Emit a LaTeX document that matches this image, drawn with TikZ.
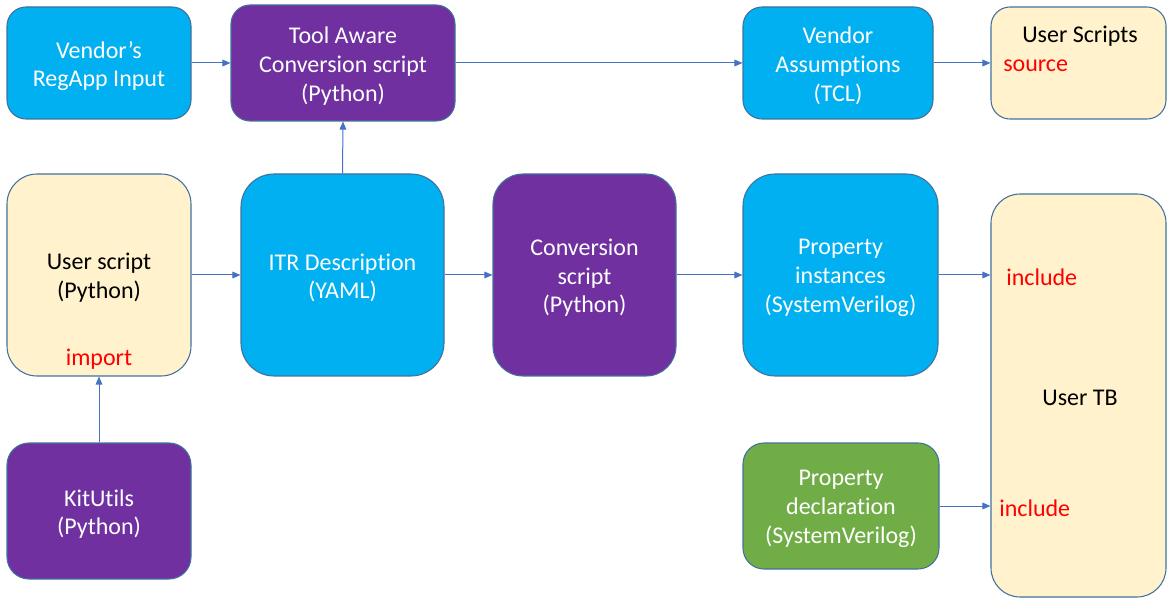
\documentclass[tikz,border=0pt]{standalone}
\usepackage{fontspec}
\setmainfont[Ligatures=NoCommon]{Carlito}
\usetikzlibrary{arrows.meta}

\definecolor{skyfill}{HTML}{00B0F0}
\definecolor{plumfill}{HTML}{7030A0}
\definecolor{leaffill}{HTML}{70AD47}
\definecolor{creamfill}{HTML}{FFF2CC}
\definecolor{outline}{HTML}{41719C}
\definecolor{linkblue}{HTML}{4472C4}
\definecolor{keyred}{HTML}{FF0000}

\begin{document}
\begin{tikzpicture}[x=0.75pt,y=-0.75pt,
  txt/.style={font=\fontsize{18}{21.5}\selectfont, inner sep=0pt},
  card/.style n args={3}{draw=outline, line width=0.8pt, inner sep=0pt,
    minimum width=#1*0.75pt, minimum height=#2*0.75pt,
    rounded corners=#3*0.75pt},
  sky/.style={fill=skyfill},
  plum/.style={fill=plumfill},
  leaf/.style={fill=leaffill},
  cream/.style={fill=creamfill},
  caption/.style={txt, align=center, text=white},
  darkcaption/.style={txt, align=center, text=black},
  keyword/.style={txt, text=keyred, anchor=west},
  link/.style={draw=linkblue, line width=0.75pt,
    -{Triangle[length=6pt,width=5pt]}}
]
\useasboundingbox (0,0) rectangle (1167,598);

% boxes, top row
\node[card={184}{112}{19}, sky]  (reg)   at (99,63)     {};
\node[card={224}{116}{19}, plum] (tool)  at (343,63)    {};
\node[card={190}{112}{19}, sky]  (vass)  at (838,63)    {};
\node[card={175}{112}{19}, cream](uscr)  at (1078.5,63) {};

% boxes, middle row
\node[card={184}{202}{30}, cream](user)  at (99,275)    {};
\node[card={203}{202}{33}, sky]  (itr)   at (342.5,275) {};
\node[card={183}{202}{30}, plum] (conv)  at (584.5,275) {};
\node[card={195}{202}{32}, sky]  (pinst) at (840.5,275) {};
\node[card={175}{403}{29}, cream](tb)    at (1078.5,395.5) {};

% boxes, bottom row
\node[card={184}{136}{22}, plum] (kit)   at (99,511)    {};
\node[card={196}{126}{21}, leaf] (pdecl) at (841,506)   {};

% captions
\node[caption] (regT)   at ([yshift=-2.25pt]reg.center)   {Vendor’s\\RegApp Input};
\node[caption] (toolT)  at ([yshift=-2.25pt]tool.center)  {Tool Aware\\Conversion script\\(Python)};
\node[caption] (vassT)  at ([yshift=-2.25pt]vass.center)  {Vendor\\Assumptions\\(TCL)};
\node[darkcaption] (uscrT) at (1080,36) {User Scripts};
\node[keyword] (src) at (1003,66) {source};

\node[darkcaption] (userT) at ([yshift=-2.25pt]user.center) {User script\\(Python)};
\node[txt, text=keyred] (imp) at (99,359) {import};
\node[caption] (itrT)   at ([yshift=-2.25pt]itr.center)   {ITR Description\\(YAML)};
\node[caption] (convT)  at ([yshift=-2.25pt]conv.center)  {Conversion\\script\\(Python)};
\node[caption] (pinstT) at ([yshift=-2.25pt]pinst.center) {Property\\instances\\(SystemVerilog)};
\node[darkcaption] (tbT) at (1080,398) {User TB};
\node[keyword] (inc1) at (1006,277) {include};

\node[caption] (kitT)   at ([yshift=-2.25pt]kit.center)   {KitUtils\\(Python)};
\node[caption] (pdeclT) at ([yshift=-2.25pt]pdecl.center) {Property\\declaration\\(SystemVerilog)};
\node[keyword] (inc2) at (999,508) {include};

% connectors
\draw[link] (reg.east) -- (tool.west);
\draw[link] (tool.east) -- (vass.west);
\draw[link] (vass.east) -- (uscr.west);
\draw[link] (itr.north) -- (tool.south);
\draw[link] (user.east) -- (itr.west);
\draw[link] (itr.east) -- (conv.west);
\draw[link] (conv.east) -- (pinst.west);
\draw[link] (pinst.east) -- (pinst.east -| tb.west);
\draw[link] (kit.north) -- (user.south);
\draw[link] (pdecl.east) -- (pdecl.east -| tb.west);
\end{tikzpicture}
\end{document}
